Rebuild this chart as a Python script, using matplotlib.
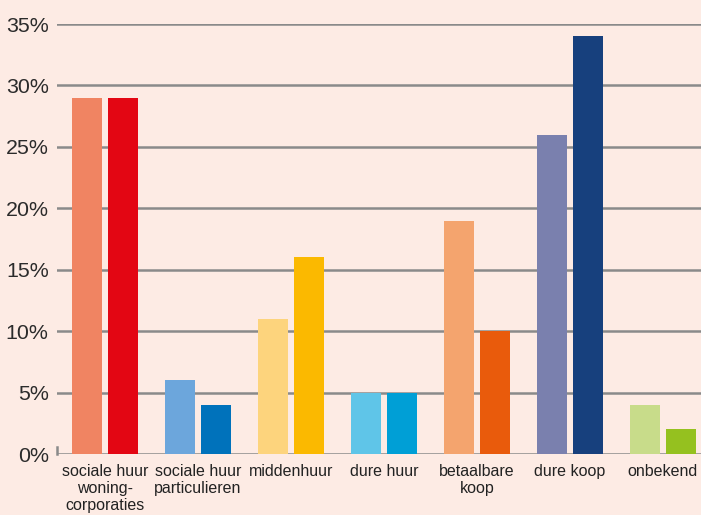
import numpy as np
import matplotlib
matplotlib.use('Agg')
import matplotlib.pyplot as plt

# categories and values (percent)
categories = ['sociale huur\nwoning-\ncorporaties', 'sociale huur\nparticulieren', 'middenhuur',
              'dure huur', 'betaalbare\nkoop', 'dure koop', 'onbekend']
values_a = [29, 6, 11, 5, 19, 26, 4]
values_b = [29, 4, 16, 5, 10, 34, 2]
colors_a = ['#f08462', '#6ca6dc', '#fdd47d', '#5fc5e8', '#f4a46e', '#7a80ae', '#c8dc8a']
colors_b = ['#e30613', '#0072bb', '#fbb900', '#009fd6', '#e95b0c', '#17407d', '#95c11f']
y_ticks = [0, 5, 10, 15, 20, 25, 30, 35]

plt.rcParams['font.family'] = ['Liberation Sans', 'DejaVu Sans']
bg = '#fdebe4'

fig = plt.figure(figsize=(7.01, 5.15), dpi=100, facecolor=bg)
ax = fig.add_axes([57 / 701, 61 / 515, 644 / 701, 430 / 515], facecolor=bg)

x = np.arange(len(categories))
w = 30 / 93
off = 18 / 93

# gridlines
for t in y_ticks:
    ax.axhline(t, color='#8a8a8a', lw=1.8, zorder=1)

ax.bar(x - off, values_a, width=w, color=colors_a, zorder=2)
ax.bar(x + off, values_b, width=w, color=colors_b, zorder=2)

ax.set_xlim(-0.516, 6.41)
ax.set_ylim(0, 35)
for s in ['top', 'right', 'bottom']:
    ax.spines[s].set_visible(False)
ax.spines['left'].set_bounds(0, 0.55)
ax.spines['left'].set_color('#8a8a8a')
ax.spines['left'].set_linewidth(1.8)

ax.set_yticks(y_ticks)
ax.set_yticklabels([f'{t}%' for t in y_ticks], fontsize=15.4, color='#2b2b2b')
ax.tick_params(axis='y', length=0, pad=6)

ax.set_xticks(x)
ax.set_xticklabels(categories, fontsize=11.5, color='#222222', linespacing=1.15)
ax.tick_params(axis='x', length=0, pad=7.5)

fig.savefig('out.png', dpi=100, facecolor=bg)
